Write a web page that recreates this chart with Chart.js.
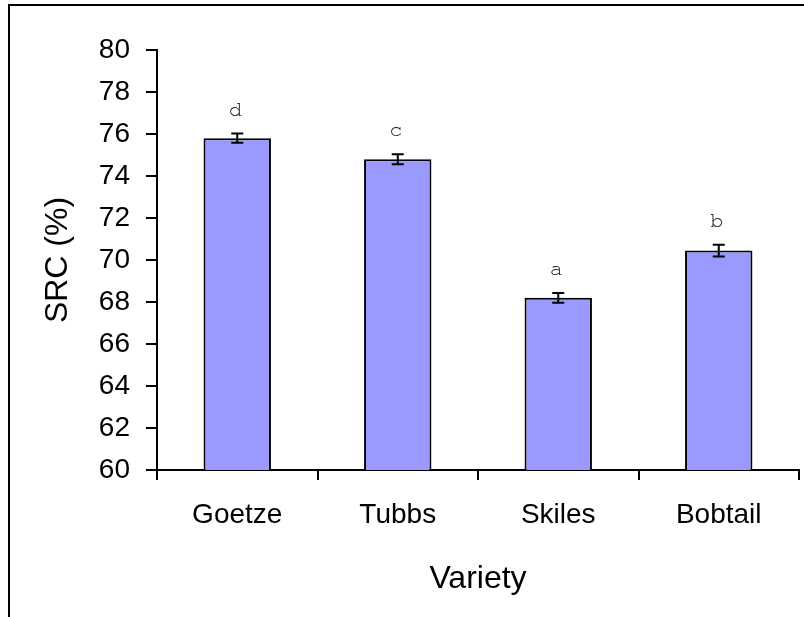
<!DOCTYPE html>
<html>
<head>
<meta charset="utf-8">
<script src="https://cdn.jsdelivr.net/npm/chart.js@4/dist/chart.umd.min.js"></script>
<style>
  html, body { margin: 0; padding: 0; background: #fff; }
  #wrap { width: 804px; height: 617px; position: relative; }
</style>
</head>
<body>
<div id="wrap"><canvas id="c" width="804" height="617"></canvas></div>
<script>
// SRC by wheat variety, with standard errors and significance letters
const varieties = ['Goetze', 'Tubbs', 'Skiles', 'Bobtail'];
const srcMeans = [75.8, 74.8, 68.2, 70.45];
const srcErrors = [0.22, 0.24, 0.23, 0.28];
const groupLetters = ['d', 'c', 'a', 'b'];
const yTicks = [60, 62, 64, 66, 68, 70, 72, 74, 76, 78, 80];

const SANS = '"Liberation Sans", Arial, sans-serif';

// Frame, error bars and letters drawn on top of the bars
const extras = {
  id: 'extras',
  afterDatasetsDraw(chart) {
    const ctx = chart.ctx;
    const y = chart.scales.y;
    const meta = chart.getDatasetMeta(0);
    ctx.save();
    // outer frame (top and left edges)
    ctx.strokeStyle = '#000';
    ctx.lineWidth = 2;
    ctx.beginPath();
    ctx.moveTo(9, 617);
    ctx.lineTo(9, 5);
    ctx.lineTo(804, 5);
    ctx.stroke();

    meta.data.forEach((bar, i) => {
      const x = bar.x;
      const top = y.getPixelForValue(srcMeans[i] + srcErrors[i]);
      const bot = y.getPixelForValue(srcMeans[i] - srcErrors[i]);
      ctx.strokeStyle = '#000';
      ctx.lineWidth = 2;
      ctx.beginPath();
      ctx.moveTo(x, top); ctx.lineTo(x, bot);
      ctx.moveTo(x - 6, top); ctx.lineTo(x + 6, top);
      ctx.moveTo(x - 6, bot); ctx.lineTo(x + 6, bot);
      ctx.stroke();

      ctx.fillStyle = '#222';
      ctx.font = '22px "Nimbus Mono PS", FreeMono, "Courier New", "Liberation Mono", monospace';
      ctx.textAlign = 'center';
      ctx.textBaseline = 'alphabetic';
      ctx.fillText(groupLetters[i], x - 2, top - 18);
    });
    ctx.restore();
  }
};

new Chart(document.getElementById('c'), {
  type: 'bar',
  data: {
    labels: varieties,
    datasets: [{
      data: srcMeans,
      backgroundColor: '#9999FF',
      borderColor: '#000',
      borderWidth: 2,
      borderSkipped: false,
      categoryPercentage: 1.0,
      barPercentage: 0.42
    }]
  },
  options: {
    responsive: false,
    animation: false,
    events: [],
    layout: { padding: { top: 50, right: 5, left: 0, bottom: 0 } },
    plugins: { legend: { display: false }, tooltip: { enabled: false } },
    scales: {
      x: {
        grid: { offset: true, drawOnChartArea: false, color: '#000', lineWidth: 2, tickLength: 10 },
        border: { color: '#000', width: 2 },
        ticks: { color: '#000', font: { family: SANS, size: 28 }, padding: 18, maxRotation: 0 },
        title: { display: true, text: 'Variety', color: '#000', font: { family: SANS, size: 32 }, padding: { top: 0, bottom: 19 } },
        afterFit(s) { s.height = 147; }
      },
      y: {
        min: 60, max: 80,
        afterBuildTicks(s) { s.ticks = yTicks.map(v => ({ value: v })); },
        grid: { drawOnChartArea: false, color: '#000', lineWidth: 2, tickLength: 11 },
        border: { color: '#000', width: 2 },
        ticks: { color: '#000', font: { family: SANS, size: 28 }, padding: 16 },
        title: { display: true, text: 'SRC (%)', color: '#000', font: { family: SANS, size: 32 }, padding: { top: 39 } },
        afterFit(s) { s.width = 157; }
      }
    }
  },
  plugins: [extras]
});
</script>
</body>
</html>
